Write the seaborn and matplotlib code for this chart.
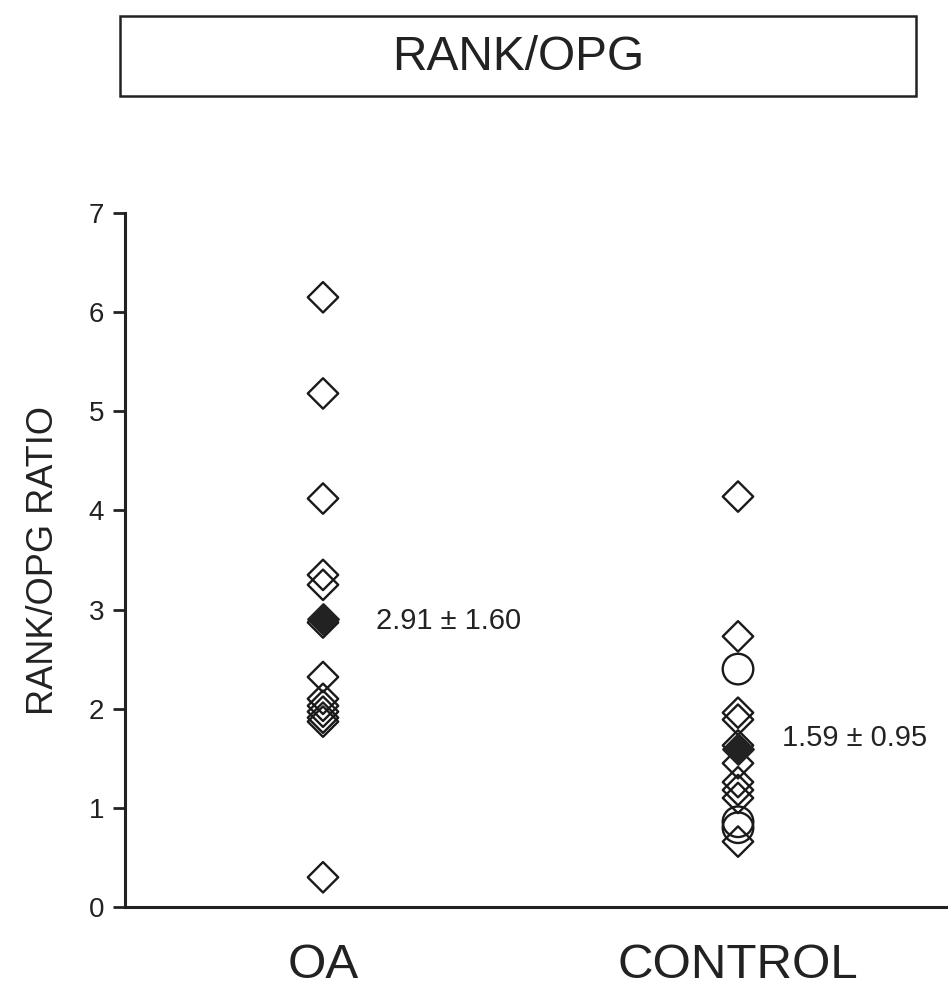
import matplotlib
matplotlib.use("Agg")
import matplotlib.pyplot as plt
from matplotlib.patches import Rectangle
import seaborn as sns
import pandas as pd

# Individual RANK/OPG ratios per subject
groups = ["OA", "CONTROL"]
oa_diamonds = [6.15, 5.18, 4.12, 3.35, 3.25, 2.87, 2.32, 2.10, 2.03, 1.97, 1.91, 1.87, 0.30]
control_diamonds = [4.14, 2.73, 1.96, 1.89, 1.63, 1.45, 1.26, 1.18, 1.10, 0.66]
control_circles = [2.40, 0.86, 0.80]

# Group mean ± SD
means = [2.91, 1.59]
sds = [1.60, 0.95]

title = "RANK/OPG"
ylabel = "RANK/OPG RATIO"
yticks = [0, 1, 2, 3, 4, 5, 6, 7]

diamonds = pd.DataFrame({
    "group": ["OA"] * len(oa_diamonds) + ["CONTROL"] * len(control_diamonds),
    "ratio": oa_diamonds + control_diamonds,
})
circles = pd.DataFrame({"group": ["CONTROL"] * len(control_circles), "ratio": control_circles})
summary = pd.DataFrame({"group": groups, "mean": means, "sd": sds})

sns.set_style("ticks")
plt.rcParams["font.family"] = ["Liberation Sans", "DejaVu Sans"]

fig = plt.figure(figsize=(9.48, 9.94), dpi=100)
ax = fig.add_axes([0.1319, 0.0875, 0.8681, 0.6982])

# open markers
sns.stripplot(data=diamonds, x="group", y="ratio", order=groups, jitter=False,
              marker="D", size=15.5, color="black", linewidth=1.7, ax=ax)
sns.stripplot(data=circles, x="group", y="ratio", order=groups, jitter=False,
              marker="o", size=22, color="black", linewidth=1.7, ax=ax)
for coll in ax.collections:
    coll.set_facecolor("none")
    coll.set_edgecolor("#1a1a1a")
n_open = len(ax.collections)

# filled mean markers
sns.stripplot(data=summary, x="group", y="mean", order=groups, jitter=False,
              marker="D", size=15.5, color="#222222", linewidth=1.7, ax=ax)
for coll in ax.collections[n_open:]:
    coll.set_edgecolor("#222222")
    coll.set_zorder(5)

# mean ± SD annotations
offsets = {"OA": (38, -2), "CONTROL": (32, 8)}
for i, row in summary.iterrows():
    ax.annotate(f"{row['mean']:.2f} \u00b1 {row['sd']:.2f}",
                xy=(i, row["mean"]), xytext=offsets[row["group"]],
                textcoords="offset points", ha="left", va="center",
                fontsize=21, color="#222222")

ax.set_xlim(-0.477, 1.506)
ax.set_ylim(0, 7)
ax.set_yticks(yticks)
ax.set_ylabel(ylabel, fontsize=26, labelpad=20, color="#222222")
ax.set_xlabel("")
ax.tick_params(axis="y", length=9, width=2.0, labelsize=20, pad=6, colors="#222222")
ax.tick_params(axis="x", length=0, labelsize=35.5, pad=26, colors="#222222")
sns.despine(ax=ax)
for side in ("left", "bottom"):
    ax.spines[side].set_linewidth(2.2)
    ax.spines[side].set_color("#222222")

# boxed title
fig.patches.append(Rectangle((120 / 948, 1 - 96 / 994), (916 - 120) / 948, 80 / 994,
                             transform=fig.transFigure, fill=False,
                             edgecolor="#222222", linewidth=1.8))
fig.text(518 / 948, 1 - 57 / 994, title, ha="center", va="center",
         fontsize=34.5, color="#222222")

fig.savefig("out.png", dpi=100, facecolor="white")
